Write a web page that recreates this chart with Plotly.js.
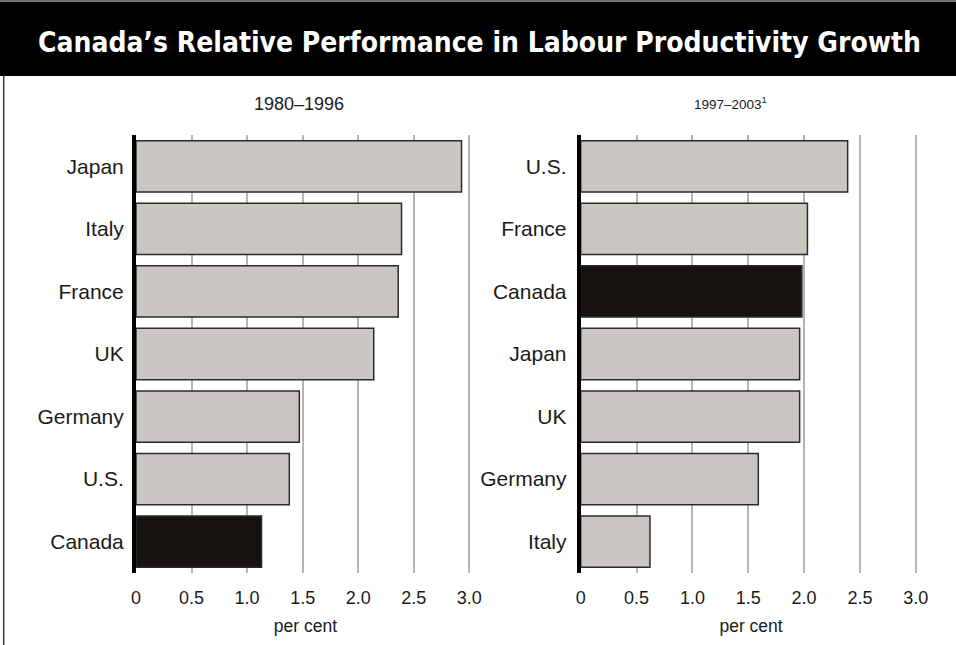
<!DOCTYPE html>
<html>
<head>
<meta charset="utf-8">
<script src="https://cdn.plot.ly/plotly-3.0.1.min.js"></script>
<style>
  html, body { margin: 0; padding: 0; background: #ffffff; }
  #chart { width: 956px; height: 645px; }
</style>
</head>
<body>
<div id="chart"></div>
<script>
// Labour productivity growth, per cent per year
const chartTitle = 'Canada’s Relative Performance in Labour Productivity Growth';

const periodA = '1980–1996';
const countriesA = ['Japan', 'Italy', 'France', 'UK', 'Germany', 'U.S.', 'Canada'];
const valuesA = [2.93, 2.39, 2.36, 2.14, 1.47, 1.38, 1.13];

const periodB = '1997–2003<sup>1</sup>';
const countriesB = ['U.S.', 'France', 'Canada', 'Japan', 'UK', 'Germany', 'Italy'];
const valuesB = [2.39, 2.03, 1.98, 1.96, 1.96, 1.59, 0.62];

const tickValues = [0, 0.5, 1.0, 1.5, 2.0, 2.5, 3.0];
const tickLabels = ['0', '0.5', '1.0', '1.5', '2.0', '2.5', '3.0'];
const unitLabel = 'per cent';
const highlight = 'Canada';

// page geometry (pixels)
const W = 956, H = 645;
const px = x => x / W;
const py = y => 1 - y / H;

const GREY = '#cac7c2';
const DARK = '#16130f';
const SANS = '"Liberation Sans", Arial, Helvetica, sans-serif';

function barColors(cats) {
  return cats.map(c => (c === highlight ? DARK : GREY));
}

const traceA = {
  type: 'bar', orientation: 'h',
  x: valuesA, y: countriesA,
  xaxis: 'x', yaxis: 'y',
  marker: { color: barColors(countriesA), line: { color: '#2b2b2b', width: 1.5 } },
  hoverinfo: 'x+y'
};
const traceB = {
  type: 'bar', orientation: 'h',
  x: valuesB, y: countriesB,
  xaxis: 'x2', yaxis: 'y2',
  marker: { color: barColors(countriesB), line: { color: '#2b2b2b', width: 1.5 } },
  hoverinfo: 'x+y'
};

const xMax = 3.05;
function xAxis(zeroPx, pxPerUnit) {
  return {
    domain: [px(zeroPx), px(zeroPx + xMax * pxPerUnit)],
    range: [0, xMax],
    tickmode: 'array', tickvals: tickValues, ticktext: tickLabels,
    showgrid: true, gridcolor: '#b4b4b4', gridwidth: 1.5,
    zeroline: false, showline: false, ticks: '',
    ticklabelstandoff: 12,
    tickfont: { family: SANS, size: 18, color: '#1a1a1a' },
    title: { text: unitLabel, font: { family: SANS, size: 17.5, color: '#1a1a1a' }, standoff: 12 },
    fixedrange: true
  };
}
function yAxis(cats, anchor, standoff) {
  return {
    anchor: anchor,
    domain: [py(573), py(135)],
    type: 'category', categoryorder: 'array', categoryarray: cats,
    autorange: 'reversed',
    showgrid: false, zeroline: false,
    showline: true, linecolor: '#000000', linewidth: 4,
    ticks: '', ticklabelstandoff: standoff,
    tickfont: { family: SANS, size: 21, color: '#1a1a1a' },
    fixedrange: true
  };
}

const layout = {
  width: W, height: H,
  margin: { l: 0, r: 0, t: 0, b: 0 },
  paper_bgcolor: '#ffffff', plot_bgcolor: 'rgba(0,0,0,0)',
  showlegend: false,
  bargap: 0.18,
  xaxis: xAxis(136, 111.1),
  yaxis: yAxis(countriesA, 'x', 4),
  xaxis2: Object.assign(xAxis(580.7, 111.7), { anchor: 'y2' }),
  yaxis2: yAxis(countriesB, 'x2', 6),
  shapes: [
    // header band
    { type: 'rect', xref: 'paper', yref: 'paper', x0: 0, x1: 1, y0: py(76), y1: py(1.5),
      fillcolor: '#000000', line: { width: 0 }, layer: 'below' },
    { type: 'line', xref: 'paper', yref: 'paper', x0: 0, x1: 1, y0: py(0.7), y1: py(0.7),
      line: { color: '#6e6e6e', width: 1.5 } },
    // frame on the left edge
    { type: 'line', xref: 'paper', yref: 'paper', x0: px(3.7), x1: px(3.7), y0: 0, y1: py(76),
      line: { color: '#3a3a3a', width: 1.5 } }
  ],
  annotations: [
    { text: '<b>' + chartTitle + '</b>', xref: 'paper', yref: 'paper',
      x: px(479), y: py(43), xanchor: 'center', yanchor: 'middle', showarrow: false,
      font: { family: '"DejaVu Sans Condensed", "Liberation Sans", Arial, sans-serif', size: 28, color: '#ffffff' } },
    { text: periodA, xref: 'paper', yref: 'paper',
      x: px(299), y: py(104), xanchor: 'center', yanchor: 'middle', showarrow: false,
      font: { family: SANS, size: 18, color: '#1a1a1a' } },
    { text: periodB, xref: 'paper', yref: 'paper',
      x: px(730), y: py(103), xanchor: 'center', yanchor: 'middle', showarrow: false,
      font: { family: SANS, size: 13.5, color: '#1a1a1a' } }
  ]
};

Plotly.newPlot('chart', [traceA, traceB], layout, { displayModeBar: false, responsive: false });
</script>
</body>
</html>
